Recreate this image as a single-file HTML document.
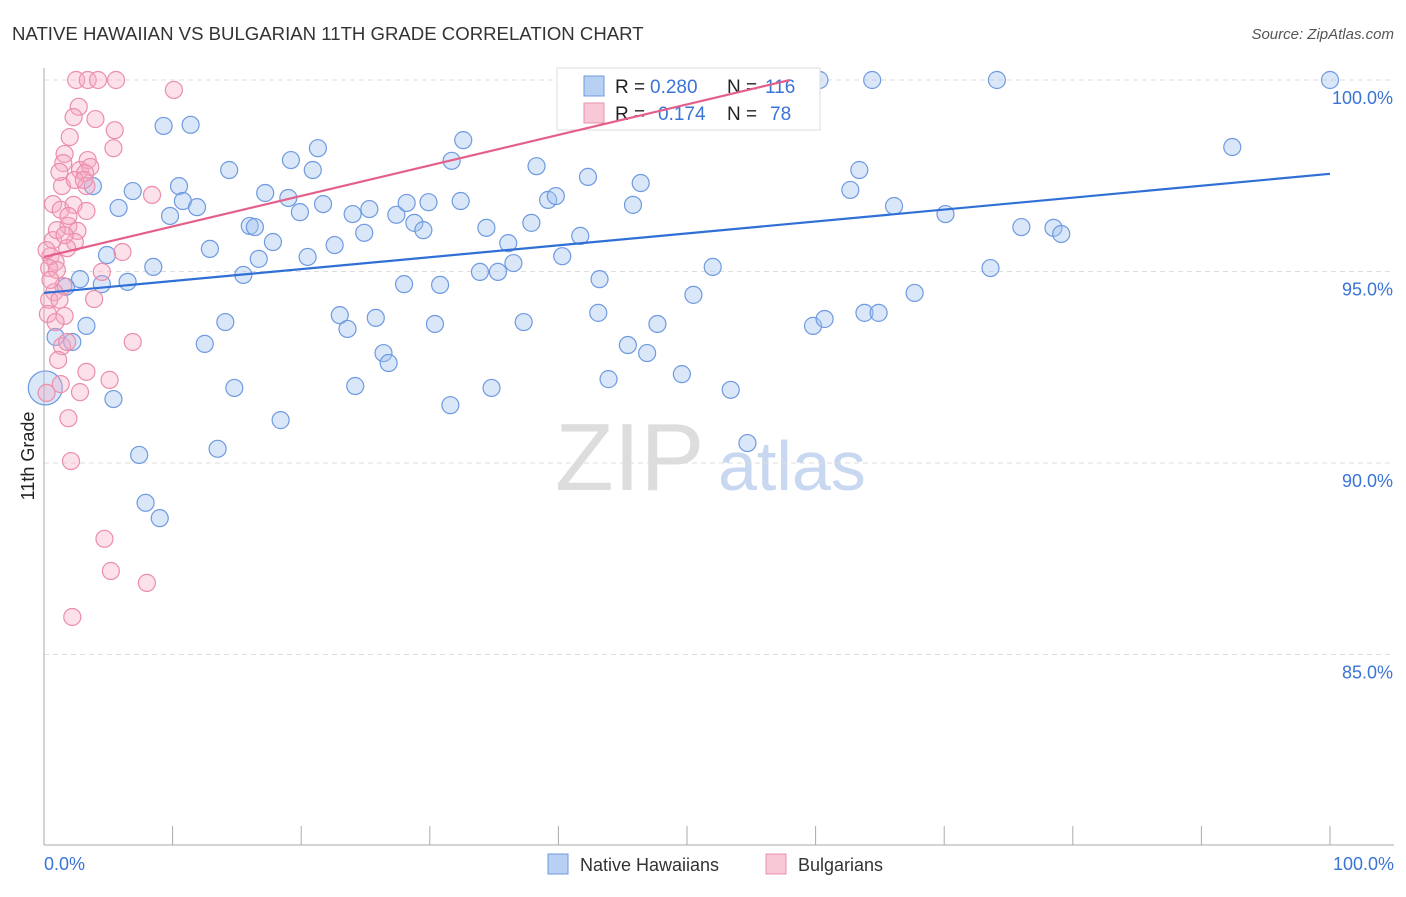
<!DOCTYPE html>
<html><head><meta charset="utf-8"><style>
body{margin:0;background:#fff;font-family:"Liberation Sans",sans-serif}
svg text{font-family:"Liberation Sans",sans-serif}
</style></head><body>
<svg id="c" width="1406" height="892" xmlns="http://www.w3.org/2000/svg">
<text x="12" y="40" font-size="18.6" fill="#333">NATIVE HAWAIIAN VS BULGARIAN 11TH GRADE CORRELATION CHART</text>
<text x="1394" y="39" font-size="15" fill="#555" text-anchor="end" font-style="italic">Source: ZipAtlas.com</text>
<text x="555" y="490" font-size="96" fill="#ddd" font-family="Liberation Serif">ZIP</text>
<text x="718" y="490" font-size="70" fill="#c8d8f0">atlas</text>
<g id="grid"></g>
<g id="axes"></g>
<g id="pts"></g>
<g>
<rect x="557" y="68" width="263" height="62" fill="#fff" stroke="#ddd"/>
<rect x="584" y="76" width="20" height="20" fill="#b8d0f2" stroke="#6f9ae0"/>
<text x="615" y="93" font-size="19" fill="#222">R =</text>
<text x="650" y="93" font-size="19" fill="#3a74d6">0.280</text>
<text x="727" y="93" font-size="19" fill="#222">N =</text>
<text x="765" y="93" font-size="19" fill="#3a74d6">116</text>
<rect x="584" y="103" width="20" height="20" fill="#f8c8d6" stroke="#e890aa"/>
<text x="615" y="120" font-size="19" fill="#222">R =</text>
<text x="658" y="120" font-size="19" fill="#3a74d6">0.174</text>
<text x="727" y="120" font-size="19" fill="#222">N =</text>
<text x="770" y="120" font-size="19" fill="#3a74d6">78</text>
</g>
<g id="lines"></g>
<text transform="translate(34,456) rotate(-90)" font-size="18" fill="#222" text-anchor="middle">11th Grade</text>
<text x="44" y="870" font-size="18" fill="#3a74d6">0.0%</text>
<text x="1394" y="870" font-size="18" fill="#3a74d6" text-anchor="end">100.0%</text>
<g>
<rect x="548" y="854" width="20" height="20" fill="#b8d0f2" stroke="#6f9ae0"/>
<text x="580" y="871" font-size="18" fill="#333">Native Hawaiians</text>
<rect x="766" y="854" width="20" height="20" fill="#f8c8d6" stroke="#e890aa"/>
<text x="798" y="871" font-size="18" fill="#333">Bulgarians</text>
</g>
</svg>
<script>
const yTicks=[100,95,90,85];
const yTickLabels=["100.0%","95.0%","90.0%","85.0%"];
const xTicks=[0,10,20,30,40,50,60,70,80,90,100];
const blueX=[41.5,44.6,59.4,60.3,64.4,74.1,100,92.4,9.3,11.4,21.3,32.6,31.7,19.2,14.4,20.9,38.3,42.3,63.4,3.8,6.9,10.5,5.8,9.8,10.8,11.9,17.2,19.0,19.9,21.7,24.0,25.3,27.4,28.2,29.9,32.4,39.2,39.8,46.4,62.7,66.1,70.1,16.0,16.4,24.9,28.8,29.5,34.4,37.9,41.7,45.8,76.0,78.5,79.1,12.9,17.8,22.6,36.1,40.3,4.9,8.5,16.7,20.5,36.5,15.5,33.9,35.3,52.0,73.6,2.8,6.5,4.5,1.7,43.2,28.0,30.8,50.5,67.7,3.3,14.1,23.0,23.6,25.8,30.4,37.3,43.1,47.7,59.8,60.7,63.8,64.9,0.9,2.2,12.5,26.4,26.8,45.4,46.9,14.8,24.2,34.8,43.9,49.6,53.4,31.6,0.1,5.4,18.4,13.5,54.7,7.4,7.9,9.0];
const blueY=[100,100,100,100,100,100,100,98.25,98.8,98.83,98.22,98.43,97.89,97.91,97.65,97.65,97.75,97.47,97.65,97.23,97.10,97.23,96.66,96.45,96.84,96.68,97.05,96.92,96.55,96.76,96.50,96.63,96.48,96.79,96.81,96.84,96.87,96.97,97.31,97.13,96.71,96.50,96.19,96.16,96.01,96.27,96.08,96.14,96.27,95.93,96.74,96.16,96.14,95.98,95.59,95.77,95.69,95.74,95.40,95.43,95.12,95.33,95.38,95.22,94.91,94.99,94.99,95.12,95.09,94.80,94.73,94.67,94.60,94.80,94.67,94.65,94.39,94.44,93.58,93.68,93.86,93.50,93.79,93.63,93.68,93.92,93.63,93.58,93.76,93.92,93.92,93.29,93.16,93.11,92.87,92.61,93.08,92.87,91.96,92.01,91.96,92.19,92.32,91.91,91.51,91.96,91.67,91.12,90.37,90.52,90.21,88.96,88.56];
const blueSize=blueX.map((x,i)=>i===blueX.length-8?2:1);
const pinkX=[2.5,3.4,4.2,5.6,10.1,2.7,2.3,4.0,2.0,5.5,5.4,1.6,1.5,2.8,3.4,3.6,3.2,3.3,1.4,8.4,0.7,1.3,2.3,3.3,1.9,2.6,2.4,0.7,1.8,0.5,0.9,0.4,1.0,4.5,6.1,1.5,0.8,0.4,3.9,0.3,1.6,0.9,1.4,1.8,6.9,1.1,3.3,5.1,1.3,2.8,0.2,1.9,2.1,4.7,5.2,8.0,2.2,1.2,2.4,1.9,1.0,3.1,0.5,0.2,1.2,1.6];
const pinkY=[100,100,100,100,99.74,99.30,99.03,98.98,98.51,98.69,98.22,98.07,97.83,97.65,97.91,97.73,97.57,97.23,97.23,97.00,96.76,96.61,96.74,96.58,96.19,96.06,95.77,95.82,95.61,95.40,95.25,95.09,95.04,94.99,95.51,94.62,94.46,94.26,94.28,93.89,93.84,93.68,93.05,93.16,93.16,92.69,92.38,92.17,92.06,91.85,91.83,91.17,90.05,88.02,87.18,86.87,85.98,97.60,97.39,96.45,96.08,97.39,94.78,95.56,94.26,95.95];
const blueTrend=[94.44,97.55];
const pinkTrend=[95.38,100,58];
const NS="http://www.w3.org/2000/svg";
const sx=v=>44+v*12.86;
const sy=v=>80+(100-v)*38.3;
function mk(tag,attrs,parent){const e=document.createElementNS(NS,tag);for(const k in attrs)e.setAttribute(k,attrs[k]);document.getElementById(parent).appendChild(e);return e;}
yTicks.forEach((t,i)=>{
 const l=mk('line',{x1:44,x2:1394,y1:sy(t),y2:sy(t),stroke:'#ddd','stroke-dasharray':'5,4'},'grid');
 
 
 const tx=mk('text',{x:1393,y:sy(t)+24,'font-size':18,fill:'#3a74d6','text-anchor':'end'},'grid');
 tx.textContent=yTickLabels[i];
 
 
});
const ya=mk('line',{x1:44,x2:44,y1:68,y2:845,stroke:'#aaa'},'axes');


const xa=mk('line',{x1:44,x2:1394,y1:845,y2:845,stroke:'#aaa'},'axes');


xTicks.forEach(t=>{
 const l=mk('line',{x1:sx(t),x2:sx(t),y1:826,y2:845,stroke:'#aaa'},'axes');
 
 
});
blueX.forEach((x,i)=>{
 const c=mk('circle',{cx:sx(x),cy:sy(blueY[i]),r:blueSize[i]>1?17:8.5,fill:'rgba(160,195,240,0.4)',stroke:'#6f9ae0','stroke-width':1.2},'pts');
 
 
});
pinkX.forEach((x,i)=>{
 const c=mk('circle',{cx:sx(x),cy:sy(pinkY[i]),r:8.5,fill:'rgba(245,170,195,0.35)',stroke:'#eb8eab','stroke-width':1.2},'pts');
 
 
});
const bl=mk('line',{x1:sx(0),y1:sy(blueTrend[0]),x2:sx(100),y2:sy(blueTrend[1]),stroke:'#2f6fd6','stroke-width':2.2},'lines');


const pl=mk('line',{x1:sx(0),y1:sy(pinkTrend[0]),x2:sx(pinkTrend[2]),y2:sy(pinkTrend[1]),stroke:'#e4608a','stroke-width':2.2},'lines');


</script>
</body></html>
